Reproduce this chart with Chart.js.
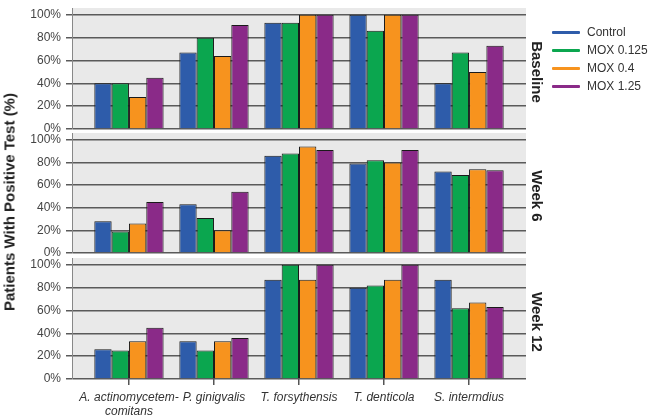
<!DOCTYPE html>
<html>
<head>
<meta charset="utf-8">
<script src="https://cdn.jsdelivr.net/npm/chart.js@4.4.1/dist/chart.umd.min.js"></script>
<style>
  body { margin: 0; background: #fff; font-family: "Liberation Sans", Arial, sans-serif; }
  #wrap { position: relative; width: 650px; height: 417px; overflow: hidden; }
  #wrap canvas { position: absolute; left: 0; }
  .side { position: absolute; font-weight: bold; font-size: 15px; color: #222; white-space: nowrap;
          transform: translate(-50%, -50%) rotate(90deg); }
  #ytitle { position: absolute; left: 9px; top: 202px; font-weight: bold; font-size: 15px; color: #222;
            white-space: nowrap; transform: translate(-50%, -50%) rotate(-90deg); }
  #legend { position: absolute; left: 552px; top: 23px; }
  .item { height: 18px; display: flex; align-items: center; font-size: 12px; color: #333; }
  .swatch { width: 28px; height: 3px; margin-right: 7px; border-radius: 1px; }
</style>
</head>
<body>
<div id="wrap">
  <canvas id="c0"></canvas>
  <canvas id="c1"></canvas>
  <canvas id="c2"></canvas>
  <div id="ytitle">Patients With Positive Test (%)</div>
  <div id="legend"></div>
</div>
<script>
// Categories and tick labels
const categories = [['A. actinomycetem-', 'comitans'], 'P. ginigvalis', 'T. forsythensis', 'T. denticola', 'S. intermdius'];
const seriesNames = ['Control', 'MOX 0.125', 'MOX 0.4', 'MOX 1.25'];
const seriesColors = ['#2e5caa', '#0ba64f', '#f7931e', '#8a2a88'];
const panelNames = ['Baseline', 'Week 6', 'Week 12'];
const yTicks = [0, 20, 40, 60, 80, 100];

// Baseline (% positive)
const baselineControl = [40, 67, 93, 100, 40];
const baselineMox0125 = [40, 80, 93, 86, 67];
const baselineMox04 = [28, 64, 100, 100, 50];
const baselineMox125 = [45, 91, 100, 100, 73];

// Week 6
const week6Control = [28, 43, 86, 79, 72];
const week6Mox0125 = [19, 31, 88, 82, 69];
const week6Mox04 = [26, 20, 94, 80, 74];
const week6Mox125 = [45, 54, 91, 91, 73];

// Week 12
const week12Control = [26, 33, 87, 80, 87];
const week12Mox0125 = [25, 25, 100, 82, 62];
const week12Mox04 = [33, 33, 87, 87, 67];
const week12Mox125 = [45, 36, 100, 100, 63];

const panelSeries = [
    [baselineControl, baselineMox0125, baselineMox04, baselineMox125],
    [week6Control, week6Mox0125, week6Mox04, week6Mox125],
    [week12Control, week12Mox0125, week12Mox04, week12Mox125]
];

// canvas placement (top, height) for each panel; last one carries the x axis
const layoutBoxes = [
    { top: -2, height: 141 },
    { top: 123, height: 140 },
    { top: 248, height: 169 }
];

const plotBackground = {
    id: 'plotBackground',
    beforeDraw(chart) {
        const { ctx, chartArea: a } = chart;
        ctx.save();
        ctx.fillStyle = '#e9e9e9';
        ctx.fillRect(a.left, a.top, a.right - a.left, a.bottom - a.top);
        ctx.restore();
    }
};

const wrap = document.getElementById('wrap');

panelSeries.forEach((series, p) => {
    const box = layoutBoxes[p];
    const showX = p === panelSeries.length - 1;
    const canvas = document.getElementById('c' + p);
    canvas.width = 650;
    canvas.height = box.height;
    canvas.style.top = box.top + 'px';

    const chart = new Chart(canvas, {
        type: 'bar',
        data: {
            datasets: series.map((vals, s) => ({
                label: seriesNames[s],
                data: vals.map((v, i) => ({ x: i, y: v })),
                backgroundColor: seriesColors[s],
                borderColor: '#1a1a1a',
                borderWidth: 1,
                barPercentage: 1,
                categoryPercentage: 0.815
            }))
        },
        options: {
            responsive: false,
            animation: false,
            layout: { padding: { top: 10, bottom: showX ? 0 : 10, left: 0, right: 124 } },
            plugins: { legend: { display: false }, tooltip: { enabled: false } },
            scales: {
                x: {
                    type: 'linear',
                    min: -0.67,
                    max: 4.67,
                    offset: false,
                    display: showX,
                    afterBuildTicks: (axis) => { axis.ticks = categories.map((c, i) => ({ value: i })); },
                    afterFit: (axis) => { axis.height = showX ? 38 : 0; axis.paddingLeft = 0; axis.paddingRight = 0; },
                    grid: { offset: false, drawOnChartArea: false, drawTicks: true, tickLength: 6, color: '#555', lineWidth: 1.5 },
                    border: { display: false },
                    ticks: {
                        autoSkip: false,
                        maxRotation: 0,
                        padding: 5,
                        color: '#333',
                        font: { family: '"Liberation Sans", Arial, sans-serif', size: 12, style: 'italic', lineHeight: 1.2 },
                        callback: (v) => categories[v]
                    }
                },
                y: {
                    min: 0,
                    max: 106,
                    afterBuildTicks: (axis) => { axis.ticks = yTicks.map(v => ({ value: v })); },
                    afterFit: (axis) => { axis.width = 72; axis.paddingTop = 0; axis.paddingBottom = 0; },
                    grid: { color: '#5a5a5a', lineWidth: 1.5, tickLength: 6, drawTicks: true },
                    border: { display: true, color: '#888', width: 1 },
                    ticks: {
                        autoSkip: false,
                        padding: 5,
                        color: '#444',
                        font: { family: '"Liberation Sans", Arial, sans-serif', size: 12 },
                        callback: (v) => v + '%'
                    }
                }
            }
        },
        plugins: [plotBackground]
    });

    // panel name at the right, centred on the 0-100% span
    const y = chart.scales.y;
    const label = document.createElement('div');
    label.className = 'side';
    label.textContent = panelNames[p];
    label.style.left = '537px';
    label.style.top = (box.top + (y.getPixelForValue(0) + y.getPixelForValue(100)) / 2) + 'px';
    wrap.appendChild(label);
});

// legend
const legend = document.getElementById('legend');
seriesNames.forEach((name, s) => {
    const item = document.createElement('div');
    item.className = 'item';
    item.innerHTML = `<span class="swatch" style="background:${seriesColors[s]}"></span>${name}`;
    legend.appendChild(item);
});
</script>
</body>
</html>
